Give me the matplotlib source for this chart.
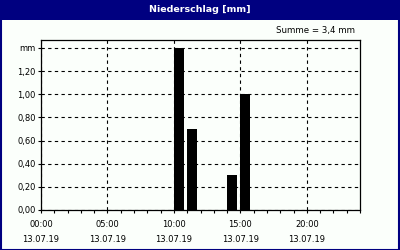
import matplotlib
matplotlib.use("Agg")
from matplotlib import pyplot as plt
from matplotlib.patches import Rectangle

# precipitation per hour on 13.07.19
start_hours = [10, 11, 14, 15]
amounts = [1.4, 0.7, 0.3, 1.0]
bar_width = 0.75

y_ticks = [0.0, 0.2, 0.4, 0.6, 0.8, 1.0, 1.2, 1.4]
y_labels = ["0,00", "0,20", "0,40", "0,60", "0,80", "1,00", "1,20", "mm"]
x_ticks = [0, 5, 10, 15, 20]
x_labels = ["00:00\n13.07.19", "05:00\n13.07.19", "10:00\n13.07.19",
            "15:00\n13.07.19", "20:00\n13.07.19"]

navy = "#000080"
bg = "#fbfffb"

plt.rcParams['font.family'] = 'DejaVu Sans'
plt.rcParams['font.size'] = 6

fig = plt.figure(figsize=(4, 2.5), dpi=100, facecolor=bg)

# title bar and frame
fig.add_artist(Rectangle((0, 0.92), 1, 0.08, transform=fig.transFigure,
                         facecolor=navy, edgecolor='none'))
fig.add_artist(Rectangle((0.0015, 0.002), 0.997, 0.996, transform=fig.transFigure,
                         facecolor='none', edgecolor=navy, linewidth=1.5))
fig.text(0.5, 0.96, "Niederschlag [mm]", color='white', fontweight='bold',
         fontsize=6.8, ha='center', va='center')
fig.text(0.888, 0.876, "Summe = %s mm" % str(round(sum(amounts), 1)).replace('.', ','),
         ha='right', va='center', fontsize=6.2)

ax = fig.add_axes([0.1025, 0.16, 0.7975, 0.68], facecolor=bg)
ax.bar(start_hours, amounts, width=bar_width, align='edge', color='black', zorder=3)

ax.set_xlim(0, 24)
ax.set_ylim(0, 1.469)
ax.set_xticks(x_ticks)
ax.set_xticklabels(x_labels, linespacing=1.8)
ax.set_xticks(range(25), minor=True)
ax.set_yticks(y_ticks)
ax.set_yticklabels(y_labels)

ax.tick_params(axis='both', which='both', length=2.2, width=0.8, color='black',
               direction='out', pad=1.5)
ax.tick_params(axis='x', which='major', pad=5)
ax.grid(True, which='major', color='black', linestyle=(0, (3, 3)), linewidth=0.8, zorder=1)
for s in ax.spines.values():
    s.set_linewidth(0.9)
ax.set_axisbelow(True)

fig.savefig("out.png", dpi=100, facecolor=bg)
